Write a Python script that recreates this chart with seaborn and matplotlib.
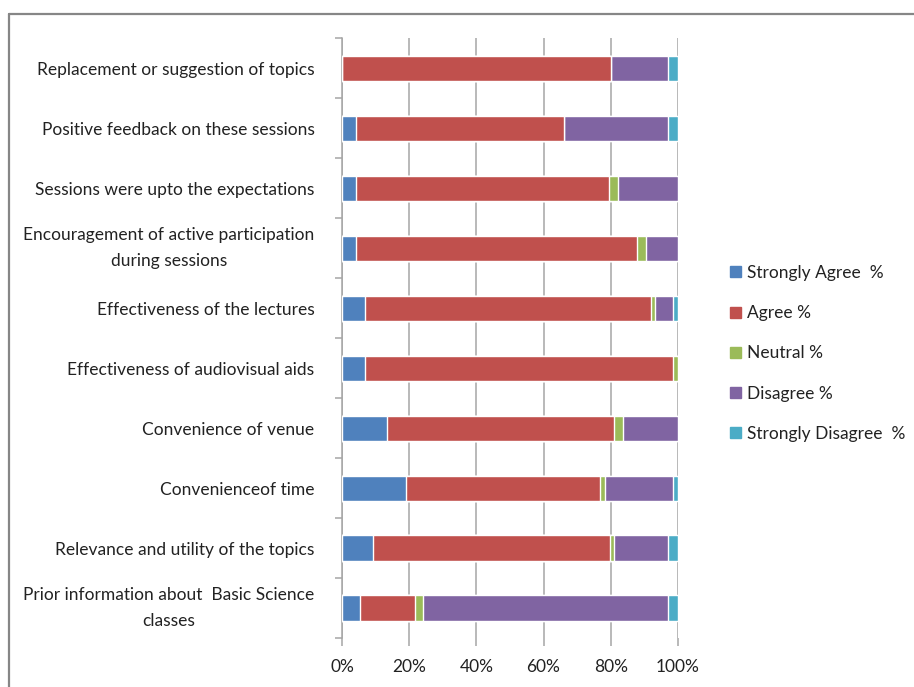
import matplotlib
matplotlib.use("Agg")
import matplotlib.pyplot as plt
from matplotlib.lines import Line2D
import numpy as np
import pandas as pd
import seaborn as sns

categories = [
    "Replacement or suggestion of topics",
    "Positive feedback on these sessions",
    "Sessions were upto the expectations",
    "Encouragement of active participation\nduring sessions",
    "Effectiveness of the lectures",
    "Effectiveness of audiovisual aids",
    "Convenience of venue",
    "Convenienceof time",
    "Relevance and utility of the topics",
    "Prior information about  Basic Science\nclasses",
]
strongly_agree = [0.0, 4.0, 4.0, 4.0, 6.8, 6.8, 13.4, 18.9, 9.2, 5.3]
agree = [80.0, 62.2, 75.6, 83.8, 85.1, 91.8, 67.7, 58.0, 70.5, 16.4]
neutral = [0.0, 0.0, 2.6, 2.7, 1.3, 1.4, 2.5, 1.4, 1.4, 2.5]
disagree = [17.2, 30.9, 17.8, 9.5, 5.4, 0.0, 16.4, 20.3, 16.0, 72.9]
strongly_disagree = [2.8, 2.9, 0.0, 0.0, 1.4, 0.0, 0.0, 1.4, 2.9, 2.9]

series_names = ["Strongly Agree  %", "Agree %", "Neutral %", "Disagree %", "Strongly Disagree  %"]
colors = ["#4F81BD", "#C0504D", "#9BBB59", "#8064A2", "#4BACC6"]
x_ticks = [0, 20, 40, 60, 80, 100]
x_ticklabels = ["0%", "20%", "40%", "60%", "80%", "100%"]

sns.set_theme(style="white")
plt.rcParams["font.family"] = ["Lato", "DejaVu Sans"]

df = pd.DataFrame({
    "category": categories,
    series_names[0]: strongly_agree,
    series_names[1]: agree,
    series_names[2]: neutral,
    series_names[3]: disagree,
    series_names[4]: strongly_disagree,
})
# cumulative totals so each series is drawn as the right end of its stack
cum = df[series_names].cumsum(axis=1)

fig = plt.figure(figsize=(9.14, 6.87), dpi=100)
ax = fig.add_axes([0.3745, 0.0713, 0.367, 0.8727])

for name, color in reversed(list(zip(series_names, colors))):
    sns.barplot(x=cum[name], y=df["category"], color=color, orient="h",
                width=0.42, saturation=1, ax=ax, zorder=3)

ax.set_xlim(0, 100)
ax.set_ylim(9.5, -0.5)
ax.set_xlabel("")
ax.set_ylabel("")
if ax.get_legend() is not None:
    ax.get_legend().remove()

grid_c = "#a6a6a6"
ax.set_xticks(x_ticks)
ax.set_xticklabels(x_ticklabels, fontsize=12.5, color="#222222")
for xv in x_ticks:
    ax.axvline(xv, color=grid_c, lw=1.1, zorder=1)
ax.tick_params(axis="x", direction="out", length=6, width=1.1, color=grid_c, pad=9, bottom=True)

ax.set_yticks(range(len(categories)))
ax.set_yticklabels(categories, fontsize=12.5, color="#222222")
for lab in ax.get_yticklabels():
    if "\n" in lab.get_text():
        lab.set_multialignment("center")
        lab.set_linespacing(1.75)
        lab.set_verticalalignment("center")
ax.set_yticks(np.arange(-0.5, len(categories), 1.0), minor=True)
ax.tick_params(axis="y", which="major", length=0, pad=20)
ax.tick_params(axis="y", which="minor", direction="out", length=5, width=1.1, color=grid_c, left=True)

for side in ["top", "right", "bottom"]:
    ax.spines[side].set_visible(False)
ax.spines["left"].set_color(grid_c)
ax.spines["left"].set_linewidth(1.1)

handles = [plt.Rectangle((0, 0), 1, 1, color=c) for c in colors]
fig.legend(handles, series_names, loc="center left", bbox_to_anchor=(0.782, 0.4855),
           frameon=False, fontsize=12.5, handlelength=0.6, handleheight=0.6,
           handletextpad=0.35, labelspacing=1.4, labelcolor="#222222")

# outer chart frame (top and left edges)
W, H = 914, 687
fig.add_artist(Line2D([9 / W, 1.0], [1 - 13.5 / H, 1 - 13.5 / H], color="#868686", lw=1.6,
                      transform=fig.transFigure))
fig.add_artist(Line2D([9 / W, 9 / W], [0.0, 1 - 13.5 / H], color="#868686", lw=1.6,
                      transform=fig.transFigure))

fig.savefig("out.png", dpi=100)
